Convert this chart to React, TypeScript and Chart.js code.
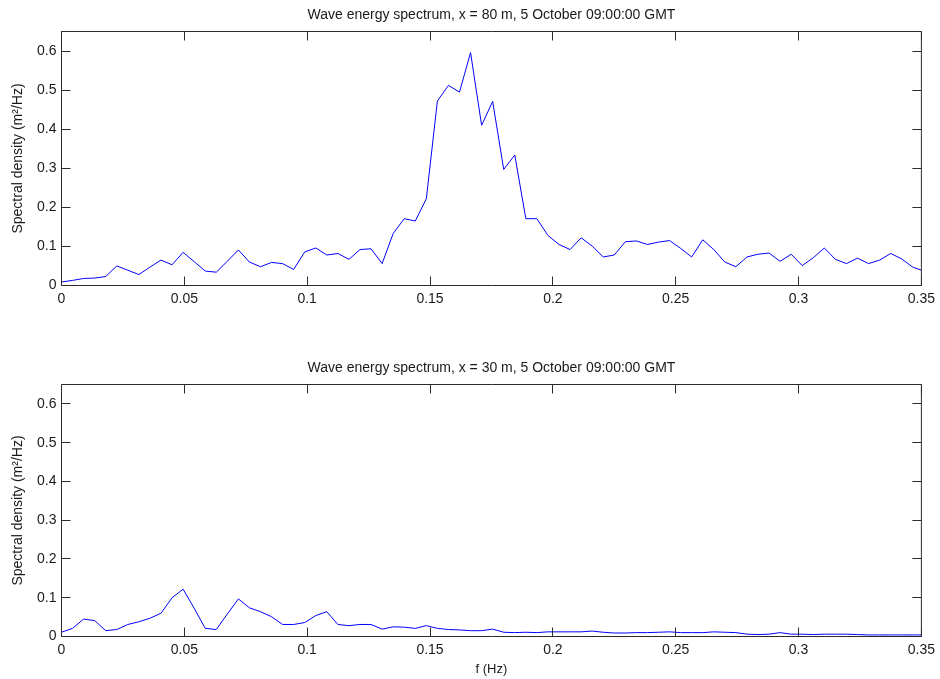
import React, { useEffect, useRef } from 'react';
import { Chart, registerables } from 'chart.js';

Chart.register(...registerables);

// ---- data ----
const FREQ_STEP = 0.0045; // Hz between spectral estimates

const S_80M = [
  0.009, 0.013, 0.018, 0.019, 0.023, 0.050, 0.039, 0.028, 0.047, 0.065,
  0.053, 0.085, 0.061, 0.037, 0.034, 0.062, 0.091, 0.060, 0.048, 0.059,
  0.056, 0.041, 0.086, 0.096, 0.078, 0.082, 0.067, 0.092, 0.094, 0.056,
  0.133, 0.171, 0.165, 0.222, 0.472, 0.512, 0.495, 0.596, 0.410, 0.471,
  0.297, 0.334, 0.171, 0.171, 0.128, 0.105, 0.092, 0.122, 0.101, 0.073,
  0.078, 0.112, 0.114, 0.105, 0.111, 0.115, 0.095, 0.073, 0.117, 0.092,
  0.060, 0.048, 0.073, 0.080, 0.083, 0.062, 0.080, 0.051, 0.071, 0.096,
  0.067, 0.056, 0.070, 0.056, 0.065, 0.082, 0.068, 0.047, 0.037,
];

const S_30M = [
  0.011, 0.021, 0.045, 0.041, 0.015, 0.018, 0.031, 0.038, 0.047, 0.060,
  0.100, 0.122, 0.073, 0.021, 0.018, 0.058, 0.097, 0.074, 0.064, 0.051,
  0.031, 0.031, 0.036, 0.054, 0.064, 0.031, 0.028, 0.031, 0.031, 0.019,
  0.025, 0.024, 0.021, 0.028, 0.021, 0.018, 0.017, 0.015, 0.015, 0.019,
  0.011, 0.010, 0.011, 0.010, 0.012, 0.012, 0.012, 0.012, 0.014, 0.011,
  0.009, 0.009, 0.010, 0.010, 0.011, 0.012, 0.010, 0.010, 0.010, 0.012,
  0.011, 0.010, 0.006, 0.005, 0.006, 0.010, 0.006, 0.006, 0.005, 0.006,
  0.006, 0.006, 0.005, 0.004, 0.004, 0.004, 0.004, 0.004, 0.004,
];

const FREQ = S_80M.map((_, i) => +(i * FREQ_STEP).toFixed(4));

const X_TICKS = [0, 0.05, 0.1, 0.15, 0.2, 0.25, 0.3, 0.35];
const Y_TICKS = [0, 0.1, 0.2, 0.3, 0.4, 0.5, 0.6];
const X_MAX = 0.35;
const Y_MAX = 0.65;

const TITLE_80 = 'Wave energy spectrum, x = 80 m, 5 October 09:00:00 GMT';
const TITLE_30 = 'Wave energy spectrum, x = 30 m, 5 October 09:00:00 GMT';
const Y_LABEL = 'Spectral density (m\u00B2/Hz)';
const X_LABEL = 'f (Hz)';

const FONT = '"Liberation Sans", Arial, Helvetica, sans-serif';
const TEXT_COLOR = '#1a1a1a';
const FRAME_COLOR = '#2b2b2b';
const LINE_COLOR = 'rgb(0,0,255)';

// MATLAB-like frame: box, inward ticks on all four sides, title over the plot area
const matlabFrame = {
  id: 'matlabFrame',
  afterDatasetsDraw(chart: any, _args: any, opts: any) {
    const { ctx, chartArea: a, scales } = chart;
    const xs = scales.x;
    const ys = scales.y;
    const L = opts.tickLen;
    ctx.save();
    ctx.strokeStyle = FRAME_COLOR;
    ctx.lineWidth = 1;
    ctx.beginPath();
    ctx.rect(a.left, a.top, a.right - a.left, a.bottom - a.top);
    for (const v of X_TICKS) {
      const px = Math.round(xs.getPixelForValue(v) - 0.5) + 0.5;
      ctx.moveTo(px, a.bottom);
      ctx.lineTo(px, a.bottom - L);
      ctx.moveTo(px, a.top);
      ctx.lineTo(px, a.top + L);
    }
    for (const v of Y_TICKS) {
      const py = Math.round(ys.getPixelForValue(v) - 0.5) + 0.5;
      ctx.moveTo(a.left, py);
      ctx.lineTo(a.left + L, py);
      ctx.moveTo(a.right, py);
      ctx.lineTo(a.right - L, py);
    }
    ctx.stroke();
    ctx.fillStyle = TEXT_COLOR;
    ctx.font = `${opts.titleSize}px ${FONT}`;
    ctx.textAlign = 'center';
    ctx.textBaseline = 'middle';
    ctx.fillText(opts.title, (a.left + a.right) / 2, opts.titleY);
    ctx.restore();
  },
};

type Props = {
  values: number[];
  title: string;
  height: number;
  top: number;
  padTop: number;
  xAxisHeight: number;
  showXLabel: boolean;
  titleY: number;
};

function SpectrumChart(p: Props) {
  const ref = useRef<HTMLCanvasElement | null>(null);
  useEffect(() => {
    if (!ref.current) return;
    const chart = new Chart(ref.current, {
      type: 'line',
      data: {
        datasets: [
          {
            data: p.values.map((v, i) => ({ x: FREQ[i], y: v })),
            borderColor: LINE_COLOR,
            borderWidth: 1,
            pointRadius: 0,
            tension: 0,
            fill: false,
          },
        ],
      },
      options: {
        responsive: false,
        animation: false,
        events: [],
        layout: { padding: { top: p.padTop, right: 18.5, bottom: 0, left: 0 } },
        plugins: {
          legend: { display: false },
          tooltip: { enabled: false },
          title: { display: false },
          // @ts-ignore
          matlabFrame: { tickLen: 9, title: p.title, titleY: p.titleY, titleSize: 14 },
        },
        scales: {
          x: {
            type: 'linear',
            min: 0,
            max: X_MAX,
            grid: { display: false, drawTicks: false },
            border: { display: false },
            afterBuildTicks: (s: any) => {
              s.ticks = X_TICKS.map((v) => ({ value: v }));
            },
            afterFit: (s: any) => {
              s.height = p.xAxisHeight;
            },
            ticks: {
              autoSkip: false,
              maxRotation: 0,
              padding: 5,
              color: TEXT_COLOR,
              font: { family: FONT, size: 14 },
              callback: (v: any) => String(+(+v).toFixed(2)),
            },
            title: {
              display: p.showXLabel,
              text: X_LABEL,
              color: TEXT_COLOR,
              font: { family: FONT, size: 13 },
              padding: { top: 0, bottom: 2 },
            },
          },
          y: {
            type: 'linear',
            min: 0,
            max: Y_MAX,
            grid: { display: false, drawTicks: false },
            border: { display: false },
            afterBuildTicks: (s: any) => {
              s.ticks = Y_TICKS.map((v) => ({ value: v }));
            },
            afterFit: (s: any) => {
              s.width = 61.5;
            },
            ticks: {
              padding: 5,
              color: TEXT_COLOR,
              font: { family: FONT, size: 14 },
              callback: (v: any) => String(+(+v).toFixed(2)),
            },
            title: {
              display: true,
              text: Y_LABEL,
              color: TEXT_COLOR,
              font: { family: FONT, size: 14 },
              padding: { top: 10, bottom: 0 },
            },
          },
        },
      },
      plugins: [matlabFrame],
    } as any);
    return () => chart.destroy();
  }, []);
  return (
    <canvas
      ref={ref}
      width={940}
      height={p.height}
      style={{ position: 'absolute', left: 0, top: p.top, width: 940, height: p.height, display: 'block' }}
    />
  );
}

export default function App() {
  return (
    <div style={{ position: 'fixed', left: 0, top: 0, width: 940, height: 679, background: '#fff', overflow: 'hidden' }}>
      <SpectrumChart values={S_80M} title={TITLE_80} height={340} top={0} padTop={31.5} xAxisHeight={54.5} showXLabel={false} titleY={15.5} />
      <SpectrumChart values={S_30M} title={TITLE_30} height={339} top={340} padTop={44.5} xAxisHeight={42.5} showXLabel={true} titleY={28.5} />
    </div>
  );
}
